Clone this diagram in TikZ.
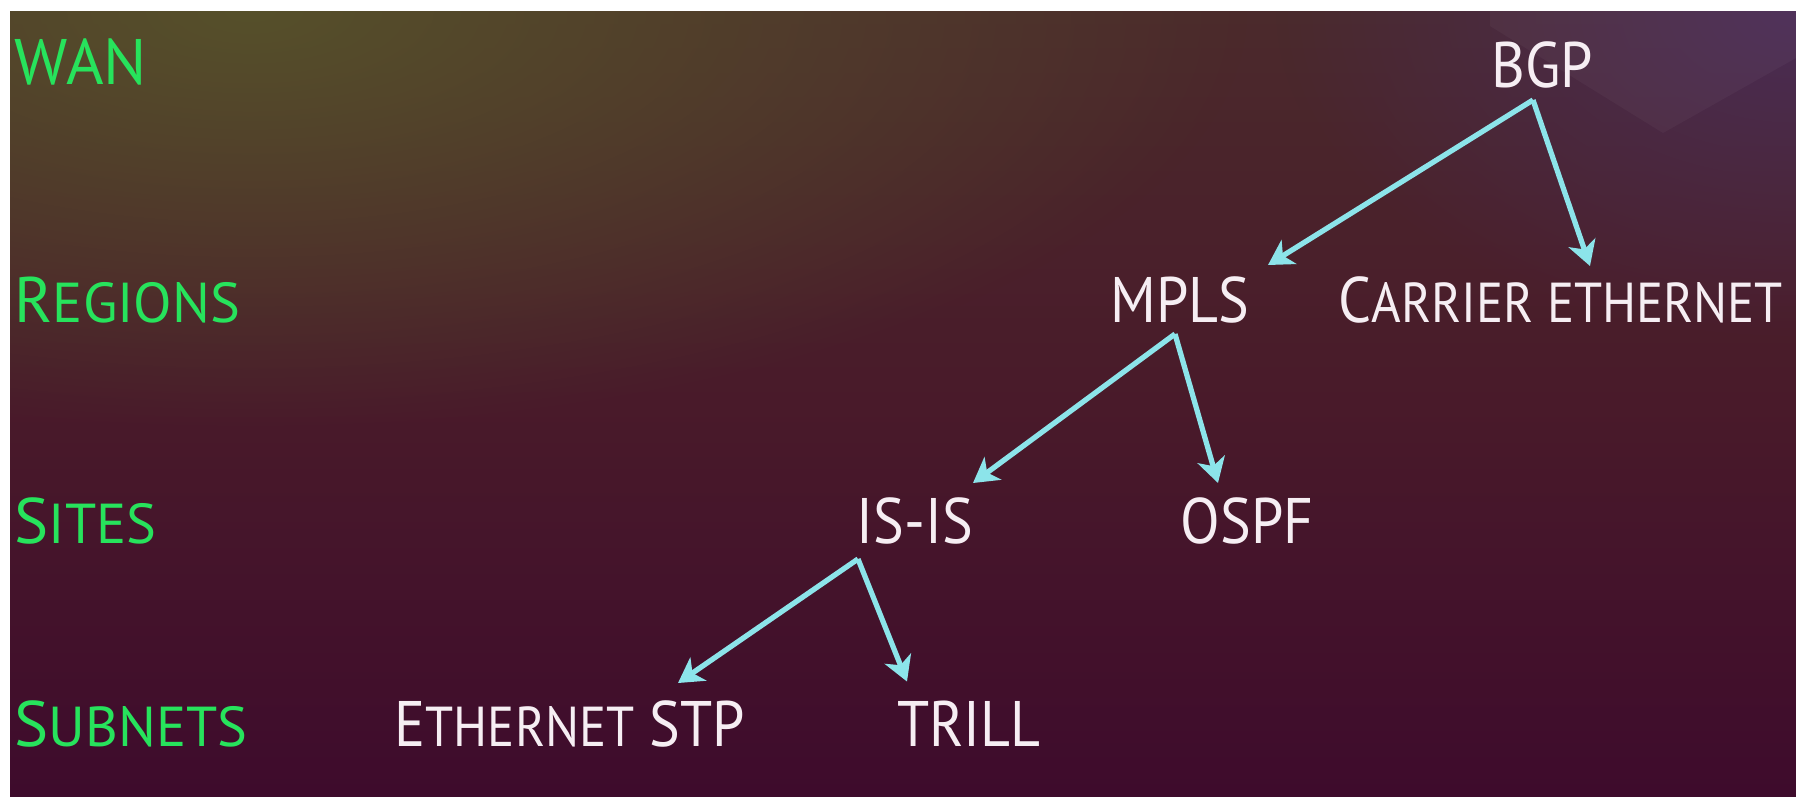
\documentclass[tikz,border=0pt]{standalone}
\usepackage{fontspec}
\setmainfont{PT Sans}
\newfontfamily\protofont{PT Sans}[FakeStretch=0.9]
\usepackage{xcolor}
\usepackage{tikz}
\usetikzlibrary{arrows.meta,positioning,fadings}
\definecolor{routinggreen}{HTML}{27E35C}
\definecolor{routingcyan}{HTML}{8CE4EA}
\definecolor{routingwhite}{HTML}{F6EEF3}
\definecolor{routingolive}{HTML}{56502A}
\definecolor{routingplum}{HTML}{4A2C55}
\definecolor{routingbrown}{HTML}{4B2A2C}
\definecolor{routingwine}{HTML}{491A2A}
\definecolor{routingdeep}{HTML}{3E0B2C}
\newcommand{\smallcap}[1]{{\fontsize{16}{18}\selectfont #1}}
\tikzfading[name=glow,inner color=transparent!0,outer color=transparent!100]

\begin{document}
\begin{tikzpicture}[x=0.01cm,y=-0.01cm,
  font=\fontsize{18.3}{22}\selectfont,
  level/.style={anchor=west,inner sep=0pt,text=routinggreen},
  proto/.style={inner sep=0pt,text=routingwhite,font=\fontsize{18.3}{22}\protofont},
  link/.style={-{Stealth[length=7pt,width=8pt,inset=2pt]},draw=routingcyan,line width=1.5pt}
]
\useasboundingbox (0,0) rectangle (1796,796);
\fill[white] (0,0) rectangle (1796,796);
\begin{scope}
\clip (10,11) rectangle (1796,796);
\shade[top color=routingbrown,bottom color=routingdeep,middle color=routingwine] (10,11) rectangle (1796,796);
\fill[routingolive,path fading=glow] (250,11) ellipse (1000 and 420);
\fill[routingplum,path fading=glow] (1796,11) ellipse (520 and 330);
\fill[white,opacity=0.035] (1490,11) -- (1490,26) -- (1663,133) -- (1796,58) -- (1796,11) -- cycle;
\end{scope}

\node[level] (wan) at (14,62) {WAN};
\node[level] (regions) at (14,300) {R\smallcap{EGIONS}};
\node[level] (sites) at (14,521) {S\smallcap{ITES}};
\node[level] (subnets) at (14,724) {S\smallcap{UBNETS}};

\node[proto] (bgp) at (1542,65) {BGP};
\node[proto] (mpls) at (1180,300) {MPLS};
\node[proto,anchor=west] (carrier) at (1338,300) {C\smallcap{ARRIER ETHERNET}};
\node[proto] (isis) at (915,521) {IS-IS};
\node[proto] (ospf) at (1247,521) {OSPF};
\node[proto] (stp) at (570,724) {E\smallcap{THERNET} STP};
\node[proto] (trill) at (969,724) {TRILL};

\coordinate (bgpfork) at ([shift={(-9,11)}]bgp.south);
\coordinate (mplsfork) at ([shift={(-5,10)}]mpls.south);
\coordinate (isisfork) at ([shift={(-57,14)}]isis.south);

\draw[link] (bgpfork) -- ([shift={(88,-11)}]mpls.north);
\draw[link] (bgpfork) -- ([shift={(252,-10)}]carrier.north west);
\draw[link] (mplsfork) -- ([shift={(58,-14)}]isis.north);
\draw[link] (mplsfork) -- ([shift={(-29,-14)}]ospf.north);
\draw[link] (isisfork) -- ([shift={(108,-17)}]stp.north);
\draw[link] (isisfork) -- ([shift={(-62,-19)}]trill.north);
\end{tikzpicture}
\end{document}
